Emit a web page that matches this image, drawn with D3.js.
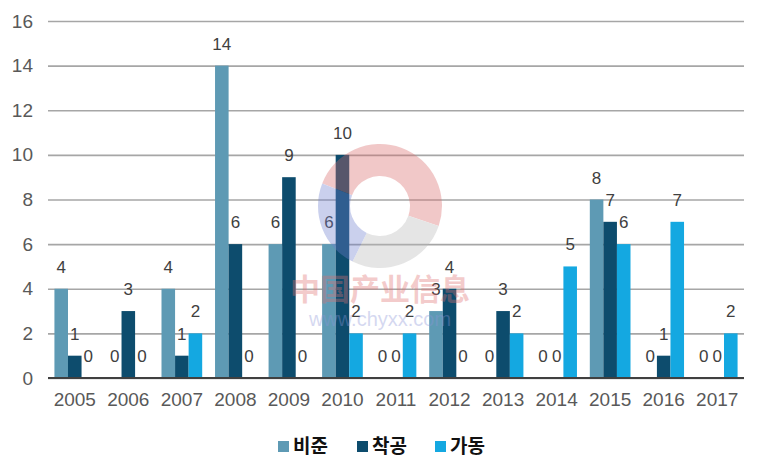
<!DOCTYPE html>
<html><head><meta charset="utf-8">
<script src="https://cdn.jsdelivr.net/npm/d3@7/dist/d3.min.js"></script>
<style>
html,body{margin:0;padding:0;background:#fff;}
svg{display:block;}
</style></head>
<body>
<script>
const years = ["2005","2006","2007","2008","2009","2010","2011","2012","2013","2014","2015","2016","2017"];
const seriesNames = ["비준","착공","가동"];
const approval = [4,0,4,14,6,6,0,3,0,0,8,0,0];
const construction = [1,3,1,6,9,10,0,4,3,0,7,1,0];
const operation = [0,0,2,0,0,2,2,0,2,5,6,7,2];
const yTicks = [0,2,4,6,8,10,12,14,16];
const colors = ["#5E9AB4","#0D4C6D","#14A8E1"];

const W = 761, H = 474;
const svg = d3.select("body").append("svg").attr("width", W).attr("height", H);
const pL = 48, pR = 744, pT = 21, pB = 378;

const x = d3.scaleBand().domain(years).range([pL, pR]).paddingInner(0.24).paddingOuter(0.12);
const xs = d3.scaleBand().domain(seriesNames).range([0, x.bandwidth()]);
const y = d3.scaleLinear().domain([0, 16]).range([pB, pT]);

// grid + y axis
const yAxis = svg.append("g").attr("transform", `translate(${pL},0)`)
  .call(d3.axisLeft(y).tickValues(yTicks).tickSize(-(pR-pL)).tickPadding(15));
yAxis.select(".domain").remove();
yAxis.selectAll("line").attr("stroke", "#A6A6A6").attr("stroke-width", 1.6);
yAxis.selectAll("text").attr("font-family", "Liberation Sans, Arial, sans-serif")
  .attr("font-size", 19).attr("fill", "#595959");

const data = years.map((yr, i) => ({year: yr, vals: [approval[i], construction[i], operation[i]]}));

const groups = svg.append("g").selectAll("g").data(data).join("g")
  .attr("transform", d => `translate(${x(d.year)},0)`);
groups.selectAll("rect").data(d => d.vals.map((v, k) => ({v, k})))
  .join("rect")
  .attr("x", d => xs(seriesNames[d.k]))
  .attr("width", xs.bandwidth())
  .attr("y", d => y(d.v))
  .attr("height", d => y(0) - y(d.v))
  .attr("fill", d => colors[d.k]);

// baseline
svg.append("line").attr("x1", pL).attr("x2", pR).attr("y1", y(0)).attr("y2", y(0))
  .attr("stroke", "#404040").attr("stroke-width", 2);

// x axis
const xAxis = svg.append("g").attr("transform", `translate(0,${pB})`)
  .call(d3.axisBottom(x).tickSize(0).tickPadding(15));
xAxis.select(".domain").remove();
xAxis.selectAll("text").attr("font-family", "Liberation Sans, Arial, sans-serif")
  .attr("font-size", 19).attr("fill", "#595959");

// watermark
const wm = svg.append("g").attr("opacity", 0.36);
const arc = d3.arc().innerRadius(30).outerRadius(62);
const cx = 380, cy = 206;
wm.append("path").attr("transform", `translate(${cx},${cy})`)
  .attr("d", arc({startAngle: -1.2, endAngle: 1.9})).attr("fill", "#D96A6A");
wm.append("path").attr("transform", `translate(${cx},${cy})`)
  .attr("d", arc({startAngle: 1.9, endAngle: 3.6})).attr("fill", "#B8B8B8");
wm.append("path").attr("transform", `translate(${cx},${cy})`)
  .attr("d", arc({startAngle: 3.6, endAngle: 5.083})).attr("fill", "#6E7FCF");
wm.append("text").attr("x", 380).attr("y", 300).attr("text-anchor", "middle")
  .attr("font-family", "Noto Sans CJK SC").attr("font-weight", "bold").attr("font-size", 30)
  .attr("fill", "#E07070").text("中国产业信息");
wm.append("text").attr("x", 380).attr("y", 326).attr("text-anchor", "middle")
  .attr("font-family", "Liberation Sans, Arial, sans-serif").attr("font-size", 20)
  .attr("fill", "#8C96D8").text("www.chyxx.com");

// data labels
groups.selectAll("text.lbl").data(d => d.vals.map((v, k) => ({v, k})))
  .join("text").attr("class", "lbl")
  .attr("x", d => xs(seriesNames[d.k]) + xs.bandwidth() / 2)
  .attr("y", d => y(d.v) - 16)
  .attr("text-anchor", "middle")
  .attr("font-family", "Liberation Sans, Arial, sans-serif")
  .attr("font-size", 17).attr("fill", "#404040")
  .text(d => d.v);

// legend
const legendX = [278, 357, 435];
const lg = svg.append("g").selectAll("g").data(seriesNames).join("g")
  .attr("transform", (d, i) => `translate(${legendX[i]},441)`);
lg.append("rect").attr("width", 11).attr("height", 11).attr("fill", (d, i) => colors[i]);
lg.append("text").attr("x", 15).attr("y", 5.5).attr("dy", "0.35em")
  .attr("font-family", "Noto Sans CJK KR").attr("font-weight", "bold").attr("font-size", 19)
  .attr("fill", "#111").text(d => d);
</script>
</body></html>
